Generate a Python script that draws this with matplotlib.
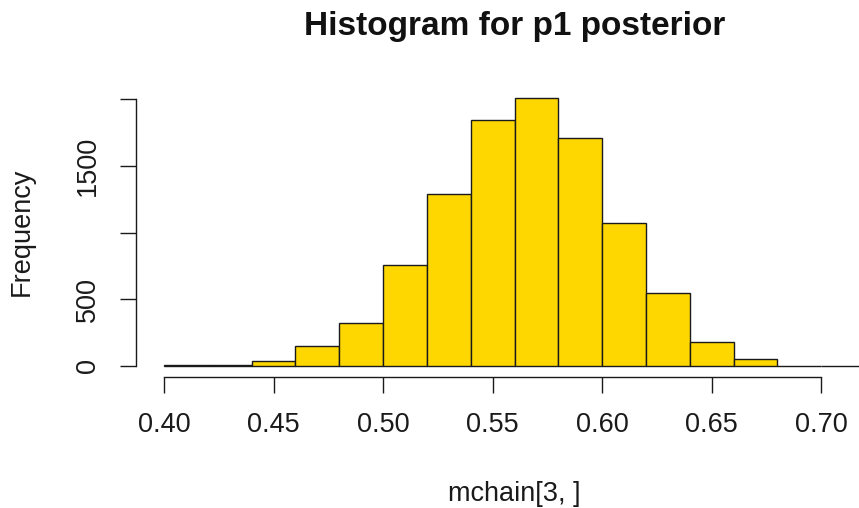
import matplotlib
matplotlib.use("Agg")
import matplotlib.pyplot as plt
import numpy as np

# posterior draws of p1, binned at width 0.02
bin_edges = [0.40, 0.42, 0.44, 0.46, 0.48, 0.50, 0.52, 0.54, 0.56,
             0.58, 0.60, 0.62, 0.64, 0.66, 0.68, 0.70, 0.72]
counts = [9, 10, 37, 150, 320, 757, 1293, 1843, 2013, 1708, 1073, 550,
          183, 50, 0, 1]
x_ticks = [0.40, 0.45, 0.50, 0.55, 0.60, 0.65, 0.70]
x_tick_labels = ["0.40", "0.45", "0.50", "0.55", "0.60", "0.65", "0.70"]
y_ticks = [0, 500, 1000, 1500, 2000]
y_tick_labels = ["0", "500", "", "1500", ""]

plt.rcParams["font.family"] = ["Liberation Sans", "DejaVu Sans"]

W, H = 859, 508
fs = 19.5
fig = plt.figure(figsize=(W / 100, H / 100), dpi=100)

# plot region as base R lays it out: ranges padded by 4%
xlo, xhi = bin_edges[0], bin_edges[-1]
ytop = max(counts)
xlim = (xlo - 0.04 * (xhi - xlo), xhi + 0.04 * (xhi - xlo))
ylim = (-0.04 * ytop, ytop * 1.04)

left_px, right_px = 136, 893
top_px, bottom_px = 86.9, 376.7
ax = fig.add_axes([left_px / W, 1 - bottom_px / H,
                   (right_px - left_px) / W, (bottom_px - top_px) / H])
ax.set_xlim(*xlim)
ax.set_ylim(*ylim)

edges = np.array(bin_edges)
ax.bar(edges[:-1], counts, width=np.diff(edges), align="edge",
       color="#FFD700", edgecolor="#1a1a1a", linewidth=1.0)

for side in ("top", "right"):
    ax.spines[side].set_visible(False)
for side in ("left", "bottom"):
    ax.spines[side].set_linewidth(1.0)
    ax.spines[side].set_color("#1a1a1a")
ax.spines["bottom"].set_bounds(x_ticks[0], x_ticks[-1])
ax.spines["left"].set_bounds(y_ticks[0], y_ticks[-1])

ax.set_xticks(x_ticks)
ax.set_xticklabels(x_tick_labels, fontsize=fs, color="#1a1a1a")
ax.set_yticks(y_ticks)
ax.set_yticklabels(y_tick_labels, fontsize=fs, rotation=90, va="center",
                   color="#1a1a1a")
ax.tick_params(axis="x", length=11.5, width=1.0, color="#1a1a1a", pad=14)
ax.tick_params(axis="y", length=11.5, width=1.0, color="#1a1a1a", pad=14)

cx = (left_px + right_px) / 2 / W
fig.text(cx, 1 - 35 / H, "Histogram for p1 posterior", ha="center",
         va="baseline", fontsize=24, fontweight="bold", color="#111111")
fig.text(cx, 1 - 501 / H, "mchain[3, ]", ha="center", va="baseline",
         fontsize=fs, color="#1a1a1a")
fig.text(22 / W, 1 - (top_px + bottom_px) / 2 / H, "Frequency",
         ha="center", va="center", rotation=90, fontsize=fs,
         color="#1a1a1a")

fig.savefig("out.png", dpi=100)
